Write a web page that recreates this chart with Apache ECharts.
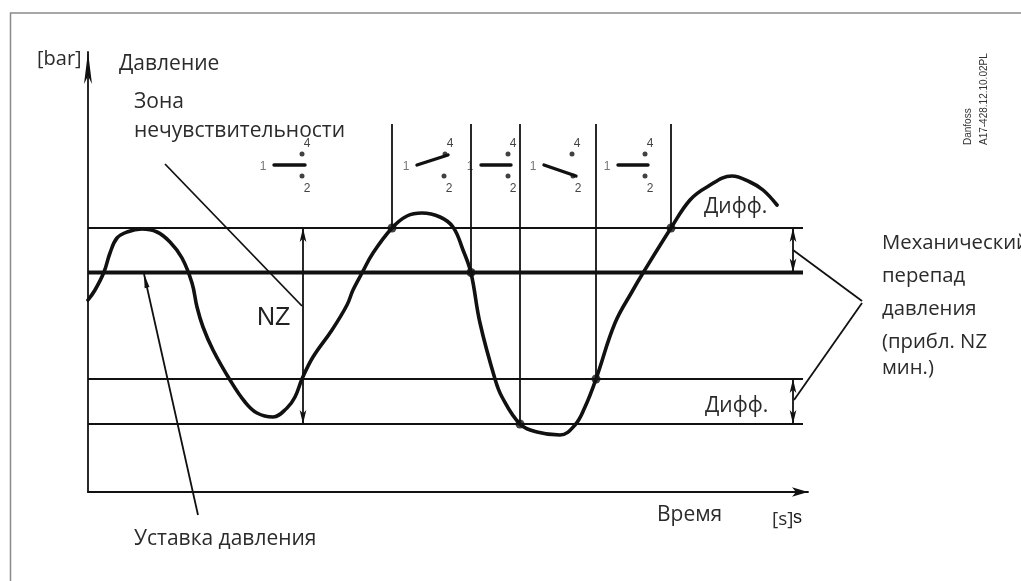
<!DOCTYPE html>
<html>
<head>
<meta charset="utf-8">
<style>
  html, body { margin: 0; padding: 0; background: #fff; }
  #chart { width: 1021px; height: 581px; }
</style>
<script src="https://cdn.jsdelivr.net/npm/echarts@6/dist/echarts.min.js"></script>
</head>
<body>
<div id="chart"></div>
<script>
// values (time and pressure have no printed scale)
const curveTime = [0, 7, 16, 22, 29, 39, 54, 69, 82, 94, 104, 109, 115, 125, 142, 157, 169, 185, 199, 207,
  214, 225, 244, 259, 265, 274, 285, 304, 319, 334, 352, 365, 375, 383, 392, 407, 414, 432, 449, 472,
  487, 497, 508, 527, 545, 555, 583, 602, 619, 644, 662, 675, 689]
const curvePressure = [192, 202, 220, 239, 254, 260, 263, 260, 250, 234, 209, 185, 165, 142, 112, 90, 79, 75, 84, 95,
  113, 135, 162, 187, 202, 219, 239, 264, 276, 279, 275, 265, 242, 219, 169, 113, 95, 68, 60, 57,
  67, 85, 113, 169, 202, 219, 264, 292, 305, 316, 310, 302, 287]

const upperLevel = 264
const setPoint = 219.5
const diffLevel = 113
const lowerLevel = 68
const levelEnd = 715

// switching moments, with the pressure at each
const switchTime = [304, 383, 432, 508, 583]
const switchPressure = [264, 219.5, 68, 113, 264]
const switchLineTop = 368

// contact symbols 1-4-2 above the curve
const armStartTime = [186, 329, 393, 456, 530]
const armEndTime = [217, 360, 423, 488, 560]
const armEndPressure = [327, 337, 327, 316, 327]
const armPressure = 327
const contact4Time = [214, 357, 420, 484, 557]
const contact2Time = [214, 356, 420, 485, 557]
const contact4Pressure = 338
const contact2Pressure = 316

const nzArrowTime = 215
const diffArrowTime = 705

// leader lines, they run outside the axes so they go through graphic
const zoneLeader = [[77, 328], [214, 186]]
const setPointLeader = [[110, -23], [56, 218]]
const diffLeaderTop = [[705, 242], [774, 191]]
const diffLeaderBottom = [[706, 92], [774, 189]]

const textFont = '"Open Sans", "Noto Sans", sans-serif'
const smallFont = '"Liberation Sans", Arial, sans-serif'
const ink = '#111'

function thin (a, b, endSym) {
  return [
    { coord: a, symbol: endSym ? 'arrow' : 'none', symbolSize: endSym || 0 },
    { coord: b, symbol: endSym ? 'arrow' : 'none', symbolSize: endSym || 0 }
  ]
}

const thinLines = []
;[upperLevel, diffLevel, lowerLevel].forEach(function (v) {
  thinLines.push(thin([0, v], [levelEnd, v]))
})
switchTime.forEach(function (t, i) {
  thinLines.push(thin([t, switchLineTop], [t, switchPressure[i]]))
})
thinLines.push(thin([nzArrowTime, upperLevel], [nzArrowTime, lowerLevel], [5, 14]))
thinLines.push(thin([diffArrowTime, upperLevel], [diffArrowTime, setPoint], [5, 14]))
thinLines.push(thin([diffArrowTime, diffLevel], [diffArrowTime, lowerLevel], [5, 14]))

function pairs (xs, ys) {
  return xs.map(function (x, i) { return [x, Array.isArray(ys) ? ys[i] : ys] })
}

const series = [
  {
    type: 'line',
    silent: true,
    data: [],
    markLine: {
      silent: true,
      animation: false,
      symbol: 'none',
      label: { show: false },
      lineStyle: { color: ink, width: 1.8, type: 'solid' },
      data: thinLines
    }
  },
  {
    name: 'setPoint',
    type: 'line',
    silent: true,
    symbol: 'none',
    data: [[0, setPoint], [levelEnd, setPoint]],
    lineStyle: { color: ink, width: 4 }
  },
  {
    name: 'curve',
    type: 'line',
    silent: true,
    smooth: 0.4,
    symbol: 'none',
    data: pairs(curveTime, curvePressure),
    lineStyle: { color: ink, width: 3.6, cap: 'round' }
  },
  {
    name: 'switchPoints',
    type: 'scatter',
    silent: true,
    symbolSize: 9,
    data: pairs(switchTime, switchPressure),
    itemStyle: { color: ink }
  },
  {
    name: 'contact4',
    type: 'scatter',
    silent: true,
    symbolSize: 5,
    data: pairs(contact4Time, contact4Pressure),
    itemStyle: { color: ink },
    label: { show: true, formatter: '4', position: 'top', offset: [5, 3], fontSize: 12, fontFamily: smallFont, color: ink }
  },
  {
    name: 'contact2',
    type: 'scatter',
    silent: true,
    symbolSize: 5,
    data: pairs(contact2Time, contact2Pressure),
    itemStyle: { color: ink },
    label: { show: true, formatter: '2', position: 'bottom', offset: [5, -1], fontSize: 12, fontFamily: smallFont, color: ink }
  },
  {
    name: 'contact1',
    type: 'scatter',
    silent: true,
    symbolSize: 1,
    data: pairs(armStartTime, armPressure),
    itemStyle: { color: ink },
    label: { show: true, formatter: '1', position: 'left', offset: [-2, 2], fontSize: 12, fontFamily: smallFont, color: '#555' }
  }
]

armStartTime.forEach(function (t, i) {
  series.push({
    type: 'line',
    silent: true,
    symbol: 'none',
    data: [[t, armPressure], [armEndTime[i], armEndPressure[i]]],
    lineStyle: { color: ink, width: 3.4, cap: 'round' }
  })
})

function label (text, x, y, extra) {
  return {
    type: 'text',
    silent: true,
    x: x,
    y: y,
    style: Object.assign({ text: text, font: '21px ' + textFont, fill: '#2b2b2b', verticalAlign: 'middle' }, extra || {})
  }
}

const chart = echarts.init(document.getElementById('chart'), null, { renderer: 'canvas' })
chart.setOption({
  animation: false,
  backgroundColor: '#fff',
  grid: { left: 88, right: 213, top: 52, bottom: 89 },
  tooltip: { show: false },
  xAxis: {
    type: 'value',
    min: 0,
    max: 720,
    splitLine: { show: false },
    axisTick: { show: false },
    axisLabel: { show: false },
    axisLine: { onZero: false, symbol: ['none', 'arrow'], symbolSize: [7, 16], lineStyle: { color: ink, width: 1.8 } }
  },
  yAxis: {
    type: 'value',
    min: 0,
    max: 440,
    splitLine: { show: false },
    axisTick: { show: false },
    axisLabel: { show: false },
    axisLine: { onZero: false, symbol: ['none', 'arrow'], symbolSize: [6, 32], lineStyle: { color: ink, width: 1.8 } }
  },
  series: series
})

function px (p) {
  return chart.convertToPixel({ gridIndex: 0 }, p)
}

function leaderLine (l) {
  const a = px(l[0])
  const b = px(l[1])
  return {
    type: 'line',
    silent: true,
    shape: { x1: a[0], y1: a[1], x2: b[0], y2: b[1] },
    style: { stroke: ink, lineWidth: 1.8 }
  }
}

// small head on the tip of the leader
function leaderHead (l) {
  const a = px(l[0])
  const b = px(l[1])
  const d = Math.hypot(b[0] - a[0], b[1] - a[1])
  const ux = (b[0] - a[0]) / d
  const uy = (b[1] - a[1]) / d
  return {
    type: 'polygon',
    silent: true,
    shape: {
      points: [b, [b[0] - ux * 14 - uy * 2.5, b[1] - uy * 14 + ux * 2.5], [b[0] - ux * 14 + uy * 2.5, b[1] - uy * 14 - ux * 2.5]]
    },
    style: { fill: ink }
  }
}

const rightFont = { font: '20.3px ' + textFont }

chart.setOption({
  graphic: [
    {
      type: 'polyline',
      silent: true,
      shape: { points: [[10.5, 581], [10.5, 13], [1021, 13]] },
      style: { stroke: '#8a8a8a', lineWidth: 1.5, fill: null }
    },
    leaderLine(zoneLeader),
    leaderLine(setPointLeader),
    leaderHead(setPointLeader),
    leaderLine(diffLeaderTop),
    leaderLine(diffLeaderBottom),
    label('[bar]', 37, 59, { font: '20px ' + textFont }),
    label('Давление', 119, 64),
    label('Зона', 134, 102),
    label('нечувствительности', 134, 131),
    label('Дифф.', 704, 207),
    label('Дифф.', 705, 406),
    label('NZ', 257, 318, { font: '25px ' + smallFont, fill: '#222' }),
    label('Механический', 882, 243, rightFont),
    label('перепад', 882, 276, rightFont),
    label('давления', 882, 309, rightFont),
    label('(прибл. NZ', 882, 342, rightFont),
    label('мин.)', 882, 368, rightFont),
    label('Уставка давления', 134, 539),
    label('Время', 657, 515),
    label('[s]', 772, 520, { font: '19px ' + textFont }),
    label('s', 793, 518, { font: '18px ' + smallFont, fill: '#111' }),
    {
      type: 'text', silent: true, x: 963, y: 145, rotation: Math.PI / 2,
      style: { text: 'Danfoss', font: '10px ' + smallFont, fill: '#333', verticalAlign: 'top' }
    },
    {
      type: 'text', silent: true, x: 979, y: 145, rotation: Math.PI / 2,
      style: { text: 'A17-428.12.10.02PL', font: '10px ' + smallFont, fill: '#333', verticalAlign: 'top' }
    }
  ]
})

window.onresize = function () {
  chart.resize()
}
</script>
</body>
</html>
